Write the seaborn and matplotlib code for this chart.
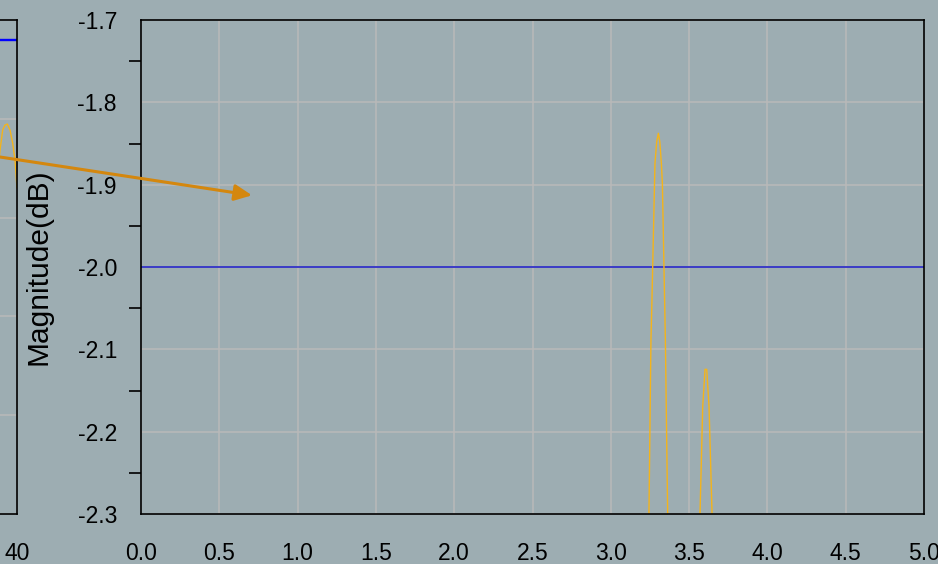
import numpy as np
import pandas as pd
import matplotlib
matplotlib.use("Agg")
import matplotlib.pyplot as plt
import seaborn as sns

# ---- data ----
ref_level_db = -2.0
main_x_ticks = [0.0, 0.5, 1.0, 1.5, 2.0, 2.5, 3.0, 3.5, 4.0, 4.5, 5.0]
main_y_ticks = [-2.3, -2.2, -2.1, -2.0, -1.9, -1.8, -1.7]
main_y_minor = [-2.25, -2.15, -2.05, -1.95, -1.85, -1.75]

resp_x = [3.236, 3.2436, 3.2564, 3.2628, 3.2756, 3.2820, 3.2930, 3.3037, 3.3130,
          3.3229, 3.3293, 3.3395, 3.3485, 3.3632, 3.372,
          3.46,
          3.562, 3.5697, 3.5870, 3.6017, 3.6125, 3.6273, 3.6464, 3.654]
resp_y = [-2.36, -2.30, -2.0887, -2.0401, -1.9300, -1.8741, -1.8480, -1.8376, -1.8480,
          -1.8741, -1.8984, -1.9997, -2.0887, -2.30, -2.36,
          -3.5,
          -2.40, -2.2992, -2.1697, -2.1243, -2.1243, -2.1697, -2.2992, -2.40]

over_x = [38.90, 39.132, 39.269, 39.387, 39.504, 39.642, 39.780, 39.898, 39.985, 40.0]
over_y = [-3.60, -3.116, -2.913, -2.863, -2.853, -2.913, -3.048, -3.217, -3.453, -3.50]
over_x_ticks = [0, 5, 10, 15, 20, 25, 30, 35, 40]
over_y_ticks = [-6.8, -5.8, -4.8, -3.8, -2.8, -1.8]

# ---- style ----
bg = "#9dadb2"
sns.set_theme(style="whitegrid")
plt.rcParams["font.family"] = ["Liberation Sans", "DejaVu Sans"]
plt.rcParams.update({
    "figure.facecolor": bg, "axes.facecolor": bg,
    "axes.edgecolor": "black", "axes.linewidth": 1.2,
    "grid.color": "#b9b9b9", "grid.linewidth": 1.1,
    "xtick.color": "black", "ytick.color": "black",
    "xtick.labelcolor": "black", "ytick.labelcolor": "black",
    "axes.labelcolor": "black", "text.color": "black",
})

fig = plt.figure(figsize=(9.38, 5.64), dpi=100)

W = 783 / 938
H = 494 / 564
B = 50 / 564
TL = 15.8   # major tick length in points (~22 px)
TLm = 8.4   # minor tick length

# overview axes, mostly off-figure on the left
ax0 = fig.add_axes([17 / 938 - W, B, W, H])
ax0.set_xlim(0, 40)
ax0.set_ylim(-6.8, -1.8)
ax0.set_xticks(over_x_ticks)
ax0.set_yticks(over_y_ticks)
ax0.grid(True)
sns.lineplot(x=[0, 40], y=[ref_level_db, ref_level_db], ax=ax0, color="#0000ff", lw=1.7)
sns.lineplot(x=over_x, y=over_y, ax=ax0, color="#f4b41a", lw=1.0, estimator=None, sort=False)
ax0.set_xlabel("")
ax0.set_ylabel("")
ax0.tick_params(axis="x", direction="out", length=TL, width=1.2, labelsize=16.5, pad=4)
ax0.tick_params(axis="y", direction="out", length=TL, width=1.2, labelsize=16.5)
for s in ax0.spines.values():
    s.set_visible(True)
    s.set_color("black")
    s.set_linewidth(1.2)

# main zoomed axes
ax = fig.add_axes([141 / 938, B, W, H])
ax.set_xlim(0, 5)
ax.set_ylim(-2.3, -1.7)
ax.set_xticks(main_x_ticks)
ax.set_xticklabels([f"{v:.1f}" for v in main_x_ticks])
ax.set_yticks(main_y_ticks)
ax.set_yticklabels([f"{v:.1f}" for v in main_y_ticks])
ax.set_yticks(main_y_minor, minor=True)
ax.grid(True, which="major")
ax.grid(False, which="minor")
sns.lineplot(x=[0, 5], y=[ref_level_db, ref_level_db], ax=ax, color="#2626c8", lw=1.2)
sns.lineplot(x=resp_x, y=resp_y, ax=ax, color="#f4b41a", lw=1.0, estimator=None, sort=False)
ax.set_xlabel("")
ax.set_ylabel("Magnitude(dB)", fontsize=21.5, labelpad=18)
ax.tick_params(axis="both", which="major", direction="out", length=TL, width=1.2,
               labelsize=16.5, pad=1.5)
ax.tick_params(axis="x", which="major", pad=4)
ax.tick_params(axis="y", which="minor", direction="out", length=TLm, width=1.2, left=True)
for s in ax.spines.values():
    s.set_visible(True)
    s.set_color("black")
    s.set_linewidth(1.2)

# annotation arrow in figure pixels
fig.patches.append(matplotlib.patches.FancyArrowPatch(
    posA=(-10, 564 - 155.5), posB=(252, 564 - 195.3), transform=None,
    arrowstyle="-|>,head_length=0.75,head_width=0.35", mutation_scale=14,
    color="#d4870e", lw=2.2, shrinkA=0, shrinkB=0, zorder=10))

fig.savefig("out.png", dpi=100, facecolor=bg)
